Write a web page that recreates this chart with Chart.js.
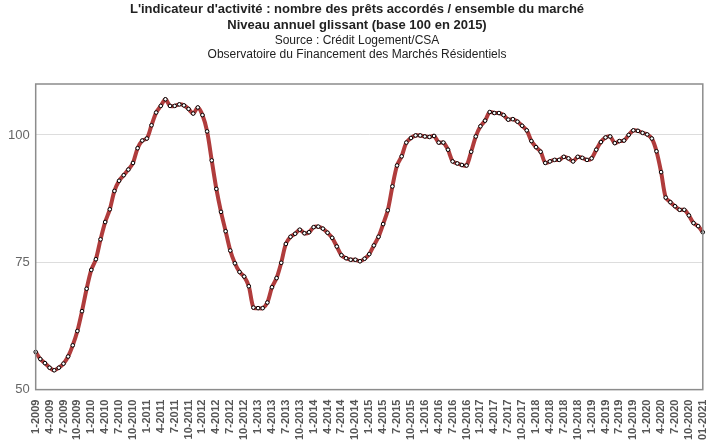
<!DOCTYPE html>
<html><head><meta charset="utf-8">
<script src="https://cdn.jsdelivr.net/npm/chart.js@4"></script>
<style>html,body{margin:0;padding:0;background:#fff}#w{width:718px;height:442px}</style>
</head><body><div id="w"><canvas id="c"></canvas></div>
<script>
const titleLines = ["L'indicateur d'activité : nombre des prêts accordés / ensemble du marché", "Niveau annuel glissant (base 100 en 2015)"];
const subtitleLines = ["Source : Crédit Logement/CSA", "Observatoire du Financement des Marchés Résidentiels"];
const startYear = 2009, endYear = 2021;
const values = [
57.4,56.0,55.2,54.3,53.8,54.3,55.1,56.5,58.7,61.5,65.4,69.8,
73.5,75.6,79.5,82.9,85.4,89.0,91.0,92.1,93.2,94.5,97.4,98.9,
99.3,101.9,104.4,105.7,107.0,105.7,105.7,106.0,105.8,105.1,104.2,105.4,
103.9,100.7,95.0,89.4,84.9,81.1,77.3,74.8,73.1,72.2,70.3,66.1,
66.0,66.0,67.1,70.1,71.9,74.9,78.6,80.0,80.6,81.4,80.7,80.9,
81.9,82.0,81.6,80.8,79.8,78.1,76.4,75.8,75.5,75.5,75.2,75.7,
76.6,78.3,80.0,82.5,85.2,89.9,94.0,95.8,98.5,99.4,99.9,99.9,
99.7,99.6,99.8,98.5,98.5,97.1,94.8,94.4,94.1,94.0,96.7,99.7,
101.7,102.8,104.5,104.3,104.3,103.9,103.0,103.1,102.6,101.8,100.9,98.8,
97.6,96.7,94.5,94.8,95.1,95.1,95.7,95.4,94.8,95.7,95.5,95.1,
95.4,97.1,98.6,99.5,99.7,98.4,98.8,98.9,100.0,100.9,100.8,100.4,
100.1,99.3,96.8,92.7,87.7,86.8,86.0,85.3,85.3,84.2,82.7,82.1,
80.9];
const labels = [];
for (let y = startYear; y <= endYear; y++) for (let m = 1; m <= 12; m++) {
  if (labels.length < values.length) labels.push((y === endYear ? '0' + m : m) + '-' + y);
}
const frame = {id:'frame', afterDraw(ch){const a=ch.chartArea,c=ch.ctx;c.save();c.strokeStyle='#8c8c8c';c.lineWidth=1.5;c.strokeRect(a.left,a.top,a.right-a.left,a.bottom-a.top);c.restore();}};
new Chart(document.getElementById('c'), {
  type:'line',
  data:{labels, datasets:[{data:values, borderColor:'#b03c3c', borderWidth:4, tension:0.3,
    pointRadius:1.8, pointBackgroundColor:'#ffffff', pointBorderColor:'#000000', pointBorderWidth:1}]},
  options:{responsive:true, maintainAspectRatio:false, animation:false,
    layout:{padding:{left:2,right:6,top:0,bottom:0}},
    plugins:{legend:{display:false}, tooltip:{enabled:false},
      title:{display:true, text:titleLines, font:{family:'Liberation Sans, Arial', size:13, weight:'bold'}, color:'#222', padding:{top:2,bottom:0}, lineHeight:1.15},
      subtitle:{display:true, text:subtitleLines, font:{family:'Liberation Sans, Arial', size:12}, color:'#222', padding:{top:0,bottom:22}, lineHeight:1.2}},
    scales:{
      x:{offset:false, grid:{display:false}, border:{display:false},
        ticks:{autoSkip:false, maxRotation:90, minRotation:90, padding:2, color:'#555', font:{family:'Liberation Sans, Arial', size:11, weight:'bold'},
          callback:(v,i)=> i%3===0 ? labels[i] : null}},
      y:{min:50, max:110, grid:{color:'#dddddd', drawTicks:false}, border:{display:false},
        ticks:{stepSize:25, color:'#666', padding:6, font:{family:'Liberation Sans, Arial', size:13},
          callback:v=> (v%25===0 ? v : null)}}
    }},
  plugins:[frame]
});
</script></body></html>
